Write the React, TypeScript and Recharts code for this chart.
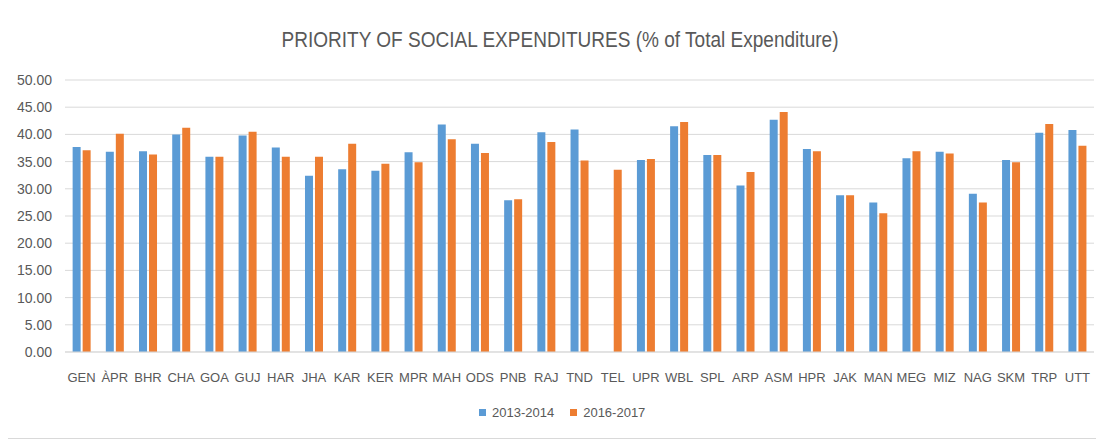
import React from 'react';
import {Bar, BarChart, CartesianGrid, XAxis, YAxis} from 'recharts';

const states = [
    'GEN', 'ÀPR', 'BHR', 'CHA', 'GOA', 'GUJ', 'HAR', 'JHA', 'KAR', 'KER', 'MPR',
    'MAH', 'ODS', 'PNB', 'RAJ', 'TND', 'TEL', 'UPR', 'WBL', 'SPL', 'ARP', 'ASM',
    'HPR', 'JAK', 'MAN', 'MEG', 'MIZ', 'NAG', 'SKM', 'TRP', 'UTT',
];

const y2013 = [
    37.7, 36.8, 36.9, 40.0, 35.9, 39.8, 37.6, 32.4, 33.6, 33.3, 36.7,
    41.8, 38.3, 27.9, 40.4, 40.9, null, 35.3, 41.5, 36.2, 30.6, 42.7,
    37.3, 28.8, 27.5, 35.6, 36.8, 29.1, 35.3, 40.3, 40.8,
];

const y2016 = [
    37.1, 40.1, 36.3, 41.2, 35.9, 40.5, 35.9, 35.9, 38.3, 34.6, 34.9,
    39.1, 36.6, 28.1, 38.6, 35.2, 33.5, 35.5, 42.3, 36.2, 33.1, 44.1,
    36.9, 28.8, 25.5, 36.9, 36.5, 27.5, 34.9, 41.9, 37.9,
];

const yTicks = [0, 5, 10, 15, 20, 25, 30, 35, 40, 45, 50];

const series = [
    {key: 'a', name: '2013-2014', color: '#5B9BD5'},
    {key: 'b', name: '2016-2017', color: '#ED7D31'},
];

const data = states.map((s, i) => ({state: s, a: y2013[i], b: y2016[i]}));

const font = '"Liberation Sans", Arial, sans-serif';
const textColor = '#595959';
const gridColor = '#d9d9d9';

export default function App() {
    return (
        <div style={{
            position: 'relative',
            margin: '-5px 0 0 -5px',
            width: 1096,
            height: 434,
            border: `1px solid ${gridColor}`,
            background: 'white',
            fontFamily: font,
        }}>
            {/* title: Excel used a narrow font, squeeze a bit */}
            <div style={{
                position: 'absolute',
                top: 23,
                left: 0,
                width: 1112,
                textAlign: 'center',
                fontSize: 22,
                color: textColor,
                transform: 'scaleX(0.865)',
                transformOrigin: '556px 0',
                whiteSpace: 'nowrap',
            }}>
                PRIORITY OF SOCIAL EXPENDITURES (% of Total Expenditure)
            </div>
            <BarChart
                width={1096}
                height={434}
                data={data}
                margin={{top: 76, right: 6, left: 0, bottom: 56}}
                barCategoryGap="23%"
                barGap={2}
            >
                <CartesianGrid vertical={false} stroke={gridColor}/>
                <XAxis
                    dataKey="state"
                    height={30}
                    interval={0}
                    tickSize={0}
                    tickMargin={21}
                    axisLine={{stroke: gridColor}}
                    tick={{fill: textColor, fontSize: 13, fontFamily: font}}
                />
                <YAxis
                    width={61}
                    domain={[0, 50]}
                    ticks={yTicks}
                    tickFormatter={(v: number) => v.toFixed(2)}
                    tickSize={0}
                    tickMargin={13}
                    axisLine={false}
                    tickLine={false}
                    tick={{fill: textColor, fontSize: 14, fontFamily: font}}
                />
                {series.map(s => (
                    <Bar key={s.key} dataKey={s.key} name={s.name} fill={s.color} isAnimationActive={false}/>
                ))}
            </BarChart>
            <div style={{
                position: 'absolute',
                top: 401,
                left: 475,
                display: 'flex',
                alignItems: 'center',
                fontSize: 13,
                color: textColor,
            }}>
                {series.map(s => (
                    <div key={s.key} style={{display: 'flex', alignItems: 'center', marginRight: 16}}>
                        <span style={{width: 7, height: 7, background: s.color, marginRight: 6}}/>
                        <span>{s.name}</span>
                    </div>
                ))}
            </div>
        </div>
    );
}
